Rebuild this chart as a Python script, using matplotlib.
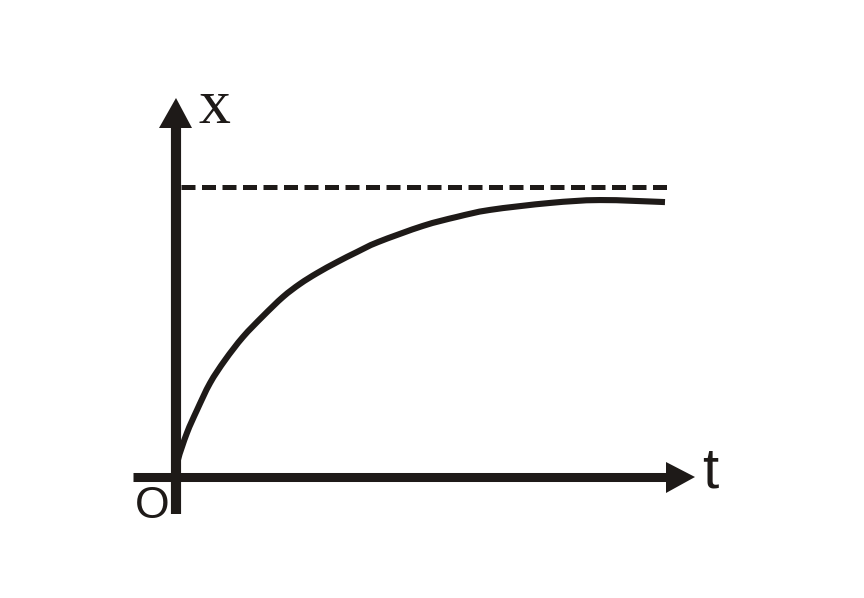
import matplotlib
matplotlib.use("Agg")
import matplotlib.pyplot as plt
from matplotlib.path import Path
from matplotlib.patches import PathPatch

# curve x(t) (t and x in arbitrary units, asymptote = 1)
t_vals = [0.0, 0.020, 0.112, 0.215, 0.348, 0.501, 0.685, 0.890, 1.094, 1.268,
          1.442, 1.646, 1.851, 2.065, 2.526, 2.873, 3.211, 3.824, 4.335, 5.0]
x_vals = [0.0, 0.059, 0.152, 0.231, 0.324, 0.403, 0.483, 0.555, 0.621, 0.666,
          0.703, 0.741, 0.776, 0.810, 0.866, 0.897, 0.921, 0.945, 0.955, 0.948]
x_limit = 1.0

ink = "#1e1a18"

W, H = 864, 598
ox, oy = 176, 477      # origin in pixels
sx, sy = 97.8, 290.0   # pixels per unit


def px(u):
    return (u - ox) / sx


def py(v):
    return (oy - v) / sy


def smooth_path(xs, ys):
    # Catmull-Rom through the read points, drawn as cubic beziers
    pts = list(zip(xs, ys))
    verts = [pts[0]]
    codes = [Path.MOVETO]
    n = len(pts)
    for i in range(n - 1):
        p0 = pts[i - 1] if i > 0 else pts[i]
        p1 = pts[i]
        p2 = pts[i + 1]
        p3 = pts[i + 2] if i + 2 < n else pts[i + 1]
        c1 = (p1[0] + (p2[0] - p0[0]) / 6, p1[1] + (p2[1] - p0[1]) / 6)
        c2 = (p2[0] - (p3[0] - p1[0]) / 6, p2[1] - (p3[1] - p1[1]) / 6)
        verts += [c1, c2, p2]
        codes += [Path.CURVE4] * 3
    return Path(verts, codes)


fig = plt.figure(figsize=(W / 100, H / 100), dpi=100)
ax = fig.add_axes([0, 0, 1, 1])
ax.set_xlim(px(0), px(W))
ax.set_ylim(py(H), py(0))
ax.axis("off")

# axes with arrow heads
ax.plot([px(133), px(668)], [0, 0], color=ink, lw=6.5, solid_capstyle="butt")
ax.fill([px(666), px(695), px(666)], [py(462), 0, py(493)], color=ink, lw=0)
ax.plot([0, 0], [py(514), py(126)], color=ink, lw=7.3, solid_capstyle="butt")
ax.fill([px(159), 0, px(192)], [py(128), py(98), py(128)], color=ink, lw=0)

# asymptote
ax.plot([px(181), px(667)], [x_limit, x_limit], color=ink, lw=3.6,
        linestyle=(0, (2.8, 1.3)), dash_capstyle="butt")

# curve
ax.add_patch(PathPatch(smooth_path(t_vals, x_vals), facecolor="none",
                       edgecolor=ink, lw=4.4, capstyle="butt"))

ax.text(px(214), py(123), "x", fontsize=46, family="Liberation Serif",
        ha="center", va="baseline", color=ink)
ax.text(px(702), py(488), "t", fontsize=42, family="Liberation Sans",
        ha="left", va="baseline", color=ink)
ax.text(px(152), py(518), "O", fontsize=32, family="Liberation Sans",
        ha="center", va="baseline", color=ink)

fig.savefig("out.png", dpi=100, facecolor="white")
